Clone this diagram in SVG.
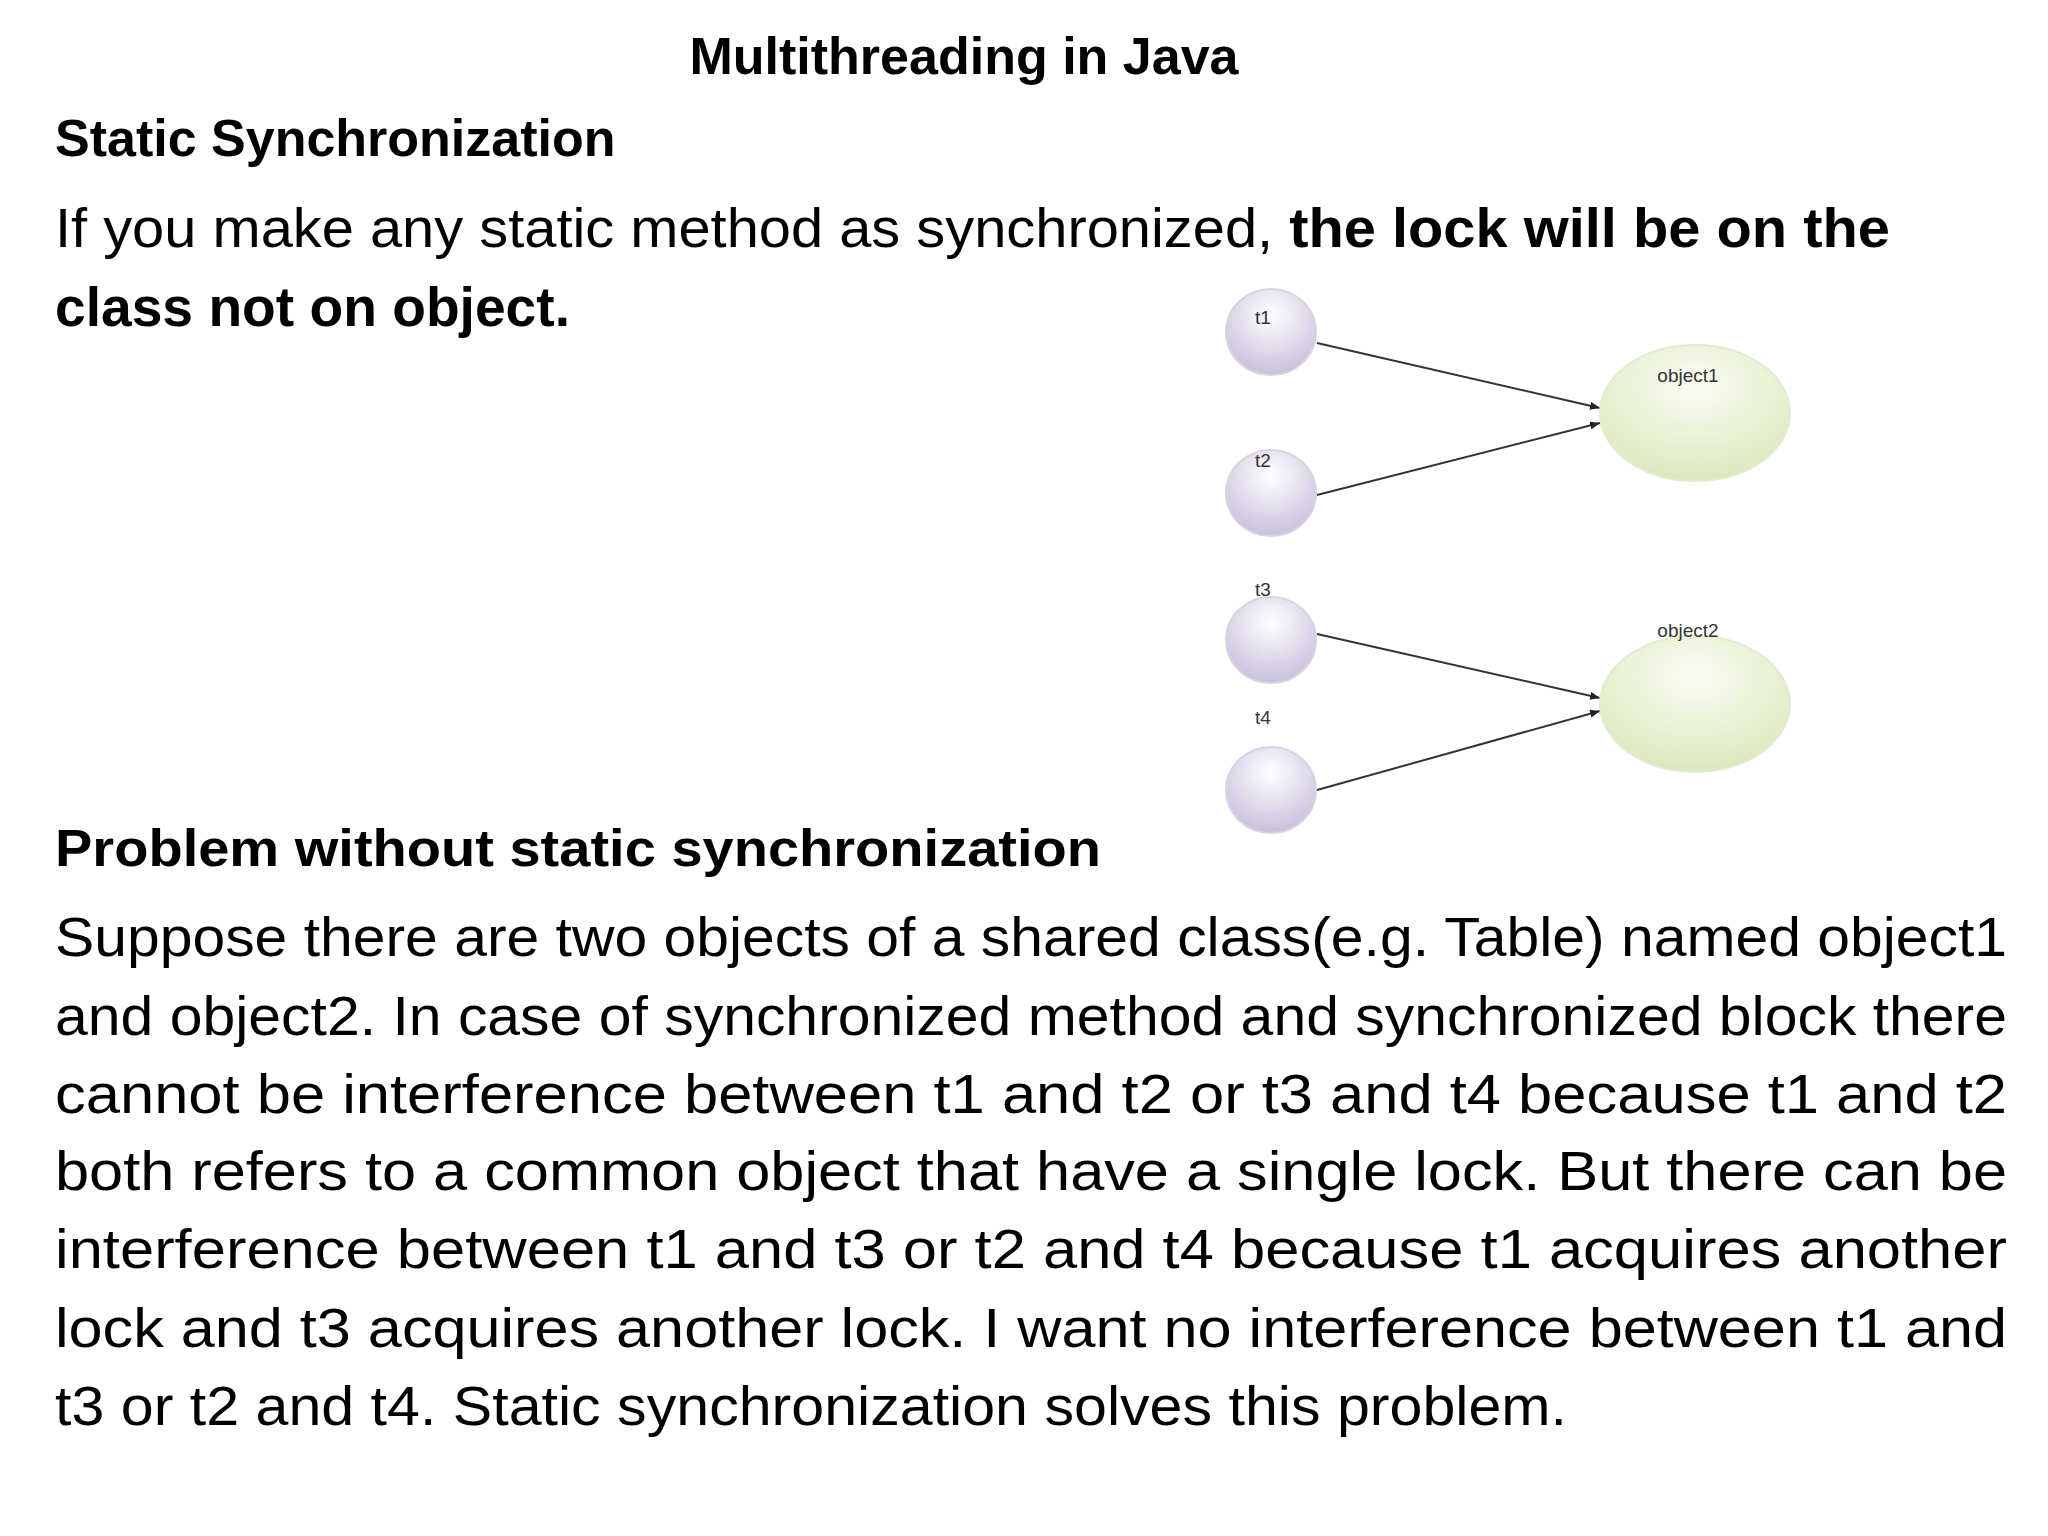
<svg xmlns="http://www.w3.org/2000/svg" width="2048" height="1536" viewBox="0 0 2048 1536">
<style>
.t{font-family:"Liberation Sans","DejaVu Sans",sans-serif;fill:#000}
.h{font-size:52px;font-weight:bold}
.p{font-size:56px}
.b{font-weight:bold}
.n{font-family:"Liberation Sans",sans-serif;font-size:19px;fill:#333;text-anchor:middle}
.c{stroke:#333;stroke-width:2;fill:none;marker-end:url(#a)}
</style>
<defs>
<radialGradient id="gp" cx="0.5" cy="0.3" r="0.7"><stop offset="0" stop-color="#ffffff"/><stop offset="1" stop-color="#c9bfdc"/></radialGradient>
<radialGradient id="gg" cx="0.5" cy="0.3" r="0.7"><stop offset="0" stop-color="#fbfdf4"/><stop offset="1" stop-color="#dbe9be"/></radialGradient>
<marker id="a" markerWidth="10" markerHeight="8" refX="10" refY="4" orient="auto" markerUnits="userSpaceOnUse"><path d="M0,0L10,4L0,8Z" fill="#222"/></marker>
</defs>
<rect width="2048" height="1536" fill="#fff"/>
<text class="t h" x="964" y="74" text-anchor="middle">Multithreading in Java</text>
<text class="t h" x="55" y="156">Static Synchronization</text>
<text class="t p" x="55" y="247" textLength="1835" lengthAdjust="spacingAndGlyphs">If you make any static method as synchronized, <tspan class="b">the lock will be on the</tspan></text>
<text class="t p b" x="55" y="326" textLength="515" lengthAdjust="spacingAndGlyphs">class not on object.</text>
<text class="t h" x="55" y="866" textLength="1046" lengthAdjust="spacingAndGlyphs">Problem without static synchronization</text>
<g class="t p">
<text x="55" y="956" textLength="1952" lengthAdjust="spacingAndGlyphs">Suppose there are two objects of a shared class(e.g. Table) named object1</text>
<text x="55" y="1035" textLength="1952" lengthAdjust="spacingAndGlyphs">and object2. In case of synchronized method and synchronized block there</text>
<text x="55" y="1113" textLength="1952" lengthAdjust="spacingAndGlyphs">cannot be interference between t1 and t2 or t3 and t4 because t1 and t2</text>
<text x="55" y="1190" textLength="1952" lengthAdjust="spacingAndGlyphs">both refers to a common object that have a single lock. But there can be</text>
<text x="55" y="1268" textLength="1952" lengthAdjust="spacingAndGlyphs">interference between t1 and t3 or t2 and t4 because t1 acquires another</text>
<text x="55" y="1347" textLength="1952" lengthAdjust="spacingAndGlyphs">lock and t3 acquires another lock. I want no interference between t1 and</text>
<text x="55" y="1425" textLength="1512" lengthAdjust="spacingAndGlyphs">t3 or t2 and t4. Static synchronization solves this problem.</text>
</g>
<g id="connectors">
<line class="c" x1="1317" y1="343" x2="1600" y2="408"/>
<line class="c" x1="1317" y1="495" x2="1600" y2="423"/>
<line class="c" x1="1317" y1="634" x2="1600" y2="698"/>
<line class="c" x1="1317" y1="790" x2="1600" y2="711"/>
</g>
<g id="t1"><ellipse cx="1271" cy="332" rx="45" ry="43" fill="url(#gp)" stroke="#d8d2e4" stroke-width="2"/><text class="n" x="1263" y="324">t1</text></g>
<g id="t2"><ellipse cx="1271" cy="493" rx="45" ry="43" fill="url(#gp)" stroke="#d8d2e4" stroke-width="2"/><text class="n" x="1263" y="467">t2</text></g>
<g id="t3"><ellipse cx="1271" cy="640" rx="45" ry="43" fill="url(#gp)" stroke="#d8d2e4" stroke-width="2"/><text class="n" x="1263" y="596">t3</text></g>
<g id="t4"><ellipse cx="1271" cy="790" rx="45" ry="43" fill="url(#gp)" stroke="#d8d2e4" stroke-width="2"/><text class="n" x="1263" y="724">t4</text></g>
<g id="object1"><ellipse cx="1695" cy="413" rx="95" ry="68" fill="url(#gg)" stroke="#e3ecd2" stroke-width="2"/><text class="n" x="1688" y="382" font-size="22">object1</text></g>
<g id="object2"><ellipse cx="1695" cy="704" rx="95" ry="68" fill="url(#gg)" stroke="#e3ecd2" stroke-width="2"/><text class="n" x="1688" y="637" font-size="22">object2</text></g>
</svg>
